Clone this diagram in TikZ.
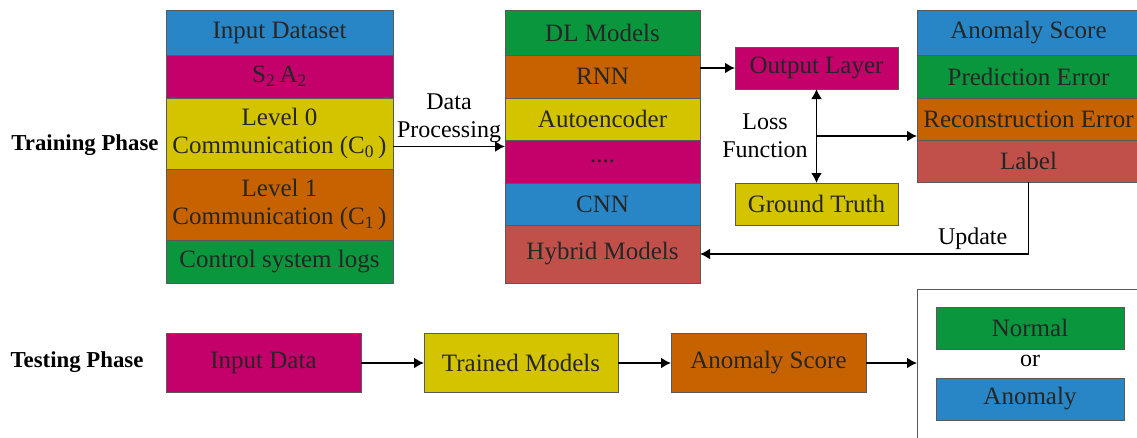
\documentclass[tikz,border=0pt]{standalone}
\usepackage{fontspec}
\setmainfont{Liberation Serif}
\usetikzlibrary{arrows.meta, positioning, calc, fit}
\definecolor{rowblue}{RGB}{40,134,198}
\definecolor{rowmag}{RGB}{196,0,106}
\definecolor{rowyel}{RGB}{212,196,0}
\definecolor{roworange}{RGB}{198,98,0}
\definecolor{rowgreen}{RGB}{10,150,60}
\definecolor{rowred}{RGB}{194,80,74}

\begin{document}
\begin{tikzpicture}[x=1pt, y=-1pt,
    row/.style={draw=black!65, fill=#1, inner sep=0pt, outer sep=0pt,
                font=\fontsize{25}{28}\selectfont, align=center, text=black!85},
    instack/.style={minimum width=227pt},
    mdlstack/.style={minimum width=195pt},
    scstack/.style={minimum width=223pt},
    phase/.style={font=\fontsize{22.8}{26}\selectfont\bfseries},
    txt/.style={font=\fontsize{24}{28}\selectfont, align=center},
    >={Latex[length=10pt, width=11pt]},
    trans/.style={->, line width=1.8pt},
]
\useasboundingbox (0,0) rectangle (1137,437);

% Training phase
\node[phase] (train) at (85,145) {Training Phase};

% Input stack
\node[row=rowblue, instack, minimum height=45pt, anchor=north west] (ds) at (166,10) {Input Dataset};
\node[row=rowmag, instack, minimum height=43pt, below=0pt of ds] (sa) {S\textsubscript{2}\,A\textsubscript{2}};
\node[row=rowyel, instack, minimum height=71pt, below=0pt of sa] (lv0) {Level 0\\Communication (C\textsubscript{0}\,)};
\node[row=roworange, instack, minimum height=71pt, below=0pt of lv0] (lv1) {Level 1\\Communication (C\textsubscript{1}\,)};
\node[row=rowgreen, instack, minimum height=43pt, below=0pt of lv1] (logs) {Control system logs};
\node[fit=(ds)(logs), inner sep=0pt, outer sep=0pt] (inputs) {};

% Model stack
\node[row=rowgreen, mdlstack, minimum height=45pt, anchor=north west] (dl) at (505,10) {DL Models};
\node[row=roworange, mdlstack, minimum height=43pt, below=0pt of dl] (rnn) {RNN};
\node[row=rowyel, mdlstack, minimum height=42pt, below=0pt of rnn] (ae) {Autoencoder};
\node[row=rowmag, mdlstack, minimum height=43pt, below=0pt of ae] (dots) {....};
\node[row=rowblue, mdlstack, minimum height=42pt, below=0pt of dots] (cnn) {CNN};
\node[row=rowred, mdlstack, minimum height=58pt, below=0pt of cnn] (hyb) {Hybrid Models};
\node[fit=(dl)(hyb), inner sep=0pt, outer sep=0pt] (models) {};

% Output and ground truth
\node[row=rowmag, minimum width=163pt, minimum height=42pt, anchor=north west] (out) at (735,47) {Output Layer};
\node[row=rowyel, minimum width=163pt, minimum height=42pt, anchor=north west] (gt) at (735,183) {Ground Truth};
\coordinate (lf) at ($(out)!0.5!(gt)$);
\node[txt] (loss) at (765,136) {Loss\\Function};

% Score stack
\node[row=rowblue, scstack, minimum height=45pt, anchor=north west] (asc) at (917,10) {Anomaly Score};
\node[row=rowgreen, scstack, minimum height=43pt, below=0pt of asc] (pe) {Prediction Error};
\node[row=roworange, scstack, minimum height=42pt, below=0pt of pe] (re) {Reconstruction Error};
\node[row=rowred, scstack, minimum height=42pt, below=0pt of re] (lbl) {Label};
\node[fit=(asc)(lbl), inner sep=0pt, outer sep=0pt] (scores) {};

% Training connectors
\draw[trans] (inputs) -- node[txt, above] {Data\\Processing} (models);
\draw[trans] (rnn.east |- out.west) -- (out.west);
\draw[trans, <->] (out) -- (gt);
\draw[trans] (lf) -- (lf -| scores.west);
\draw[trans] (lbl.south) |- node[txt, pos=0.585, above] {Update} (hyb.east);

% Testing phase
\node[phase] (test) at (77,362) {Testing Phase};
\node[row=rowmag, minimum width=195pt, minimum height=59pt, anchor=west] (idata) at (166,363) {Input Data};
\node[row=rowyel, minimum width=194pt, minimum height=59pt, right=63pt of idata] (trained) {Trained Models};
\node[row=roworange, minimum width=195pt, minimum height=59pt, right=53pt of trained] (ascore) {Anomaly Score};

% Result box
\node[draw=black!65, line width=0.8pt, minimum width=240pt, minimum height=165pt, anchor=north west] (res) at (917,289) {};
\node[row=rowgreen, minimum width=188pt, minimum height=42pt] (normal) at (1030,328) {Normal};
\node[txt] (or) at (1030,361) {or};
\node[row=rowblue, minimum width=188pt, minimum height=42pt] (anom) at (1030,399) {Anomaly};

% Testing connectors
\draw[trans] (idata) -- (trained);
\draw[trans] (trained) -- (ascore);
\draw[trans] (ascore) -- (ascore -| res.west);

\end{tikzpicture}
\end{document}
